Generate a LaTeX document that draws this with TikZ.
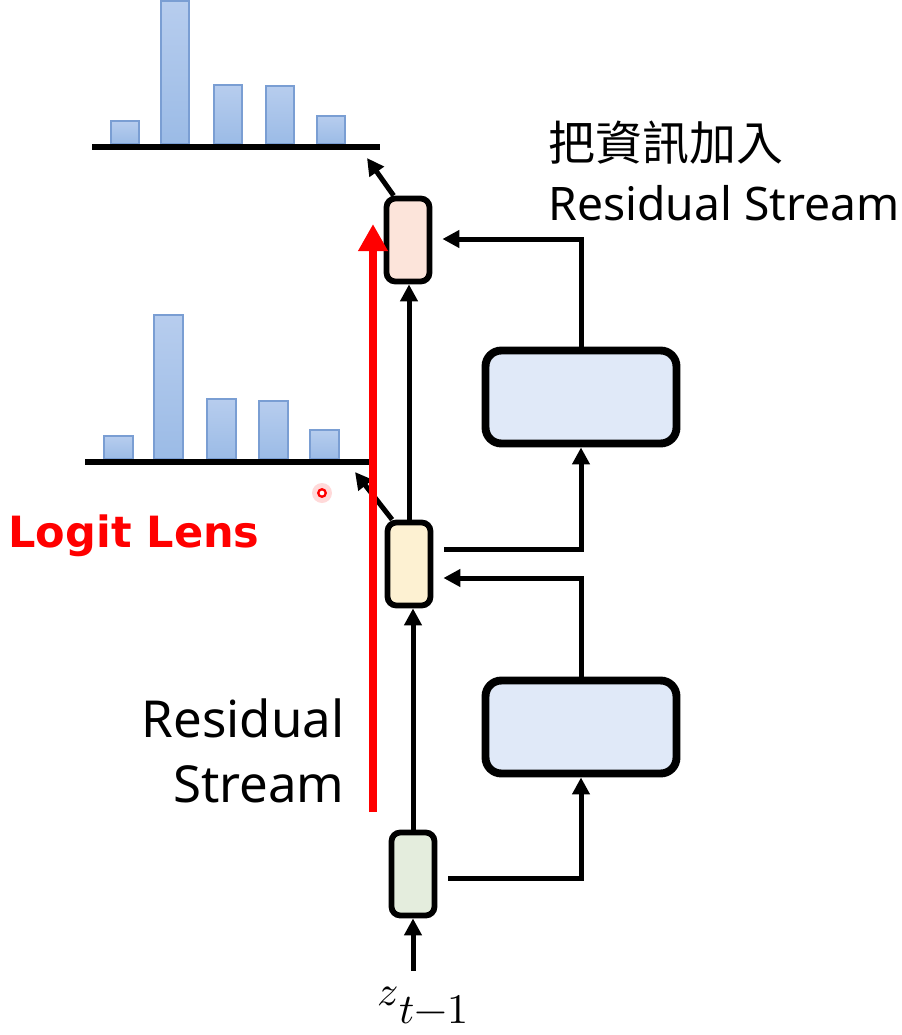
\documentclass[tikz,border=0pt]{standalone}
\usepackage{fontspec}
\usepackage{unicode-math}
\setmainfont{Noto Sans}
\setmathfont{Latin Modern Math}
\newfontfamily\cjkfont{Noto Sans CJK TC}
\newfontfamily\lensfont{DejaVu Sans}
\usetikzlibrary{arrows.meta, positioning}
\definecolor{cbartop}{HTML}{B7CDEE}
\definecolor{cbarbot}{HTML}{9BBBE6}
\definecolor{cbaredge}{HTML}{7A9ED3}
\definecolor{cpink}{HTML}{FCE4DA}
\definecolor{ccream}{HTML}{FDF1D2}
\definecolor{cgreen}{HTML}{E4EDDD}
\definecolor{cblock}{HTML}{E0E9F8}
\definecolor{cred}{HTML}{FF0000}
\tikzset{
  every picture/.style={line width=2.85pt},
  resbox/.style={draw, fill=#1, line width=3.3pt, rounded corners=5pt, inner sep=0pt, minimum width=0.86cm, minimum height=1.66cm},
  block/.style={draw, fill=cblock, line width=4.5pt, rounded corners=9pt, inner sep=0pt, minimum width=3.82cm, minimum height=1.86cm},
  arrow/.style={-{Triangle[length=0.34cm, width=0.34cm]}, line width=2.85pt},
  lens/.style={-{Triangle[length=0.54cm, width=0.56cm]}, draw=cred, line width=5pt},
  bar/.style={top color=cbartop, bottom color=cbarbot, draw=cbaredge, line width=0.8pt},
  axis/.style={line width=3pt},
  label/.style={font=\fontsize{29}{34}\selectfont, inner sep=0pt},
}

\begin{document}
\begin{tikzpicture}[x=0.02cm, y=-0.02cm]
  \useasboundingbox (0,0) rectangle (902,1035);
  % ---------------- histograms
  \foreach \x/\t in {111/121, 161/1, 214/85, 266/86, 317/116}
    \draw[bar] (\x,\t) rectangle (\x+28,144);
  \draw[axis] (92,147) -- (380,147);
  \coordinate (toptip) at (367,158);
  \foreach \x/\t in {104/436, 154/315, 207/399, 259/401, 310/430}
    \draw[bar] (\x,\t) rectangle (\x+29,459);
  \draw[axis] (85,462) -- (369,462);
  \coordinate (midtip) at (355,472);
  % ---------------- residual stream
  \node[resbox=cgreen] (res0) at (413,874) {};
  \node[resbox=ccream] (res1) at (409,564) {};
  \node[resbox=cpink] (res2) at (408,240) {};
  \node[block] (blk2) at (581,727) {};
  \node[block] (blk1) at (581,397) {};
  \node[anchor=base west, inner sep=0pt, font=\fontsize{24}{28}\selectfont] (zin) at (375,1005) {$z$\hspace{0.02cm}\raisebox{-0.36cm}{$t{-}1$}};
  \draw[arrow, shorten <=0.26cm] (zin.north -| res0.south) -- (res0.south);
  \draw[arrow] (res0.north) -- (res0.north |- res1.south);
  \draw[arrow] (res1.north) -- (res1.north |- res2.south);
  \draw[arrow, shorten <=0.22cm] ([yshift=-0.08cm]res0.east) -| (blk2.south);
  \draw[arrow, shorten >=0.2cm] (blk2.north) |- ([yshift=-0.28cm]res1.east);
  \draw[arrow, shorten <=0.22cm] ([yshift=0.3cm]res1.east) -| (blk1.south);
  \draw[arrow, shorten >=0.2cm] (blk1.north) |- ([yshift=0.02cm]res2.east);
  \draw[arrow] ([xshift=0.2cm]res2.north west) -- (toptip);
  \draw[arrow] ([xshift=0.15cm]res1.north west) -- (midtip);
  % ---------------- logit lens
  \coordinate (lensfoot) at (373,812);
  \coordinate (lenstop) at (373,224);
  \draw[lens] (lensfoot) -- (lenstop);
  \fill[cred!15] (322,493) circle (0.2cm);
  \draw[cred, line width=1.3pt, fill=white] (322,493) circle (0.075cm);
  % ---------------- labels
  \node[label, anchor=base west, font=\fontsize{26.7}{30}\selectfont] (addinfo) at (546,160) {\cjkfont 把資訊加入};
  \node[label, anchor=base west, font=\fontsize{26.3}{30}\selectfont] (addres) at (546,220) {Residual Stream};
  \node[label, anchor=base west, text=cred, font=\lensfont\bfseries\fontsize{24.5}{28}\selectfont] (lensname) at (6,547) {Logit Lens};
  \node[label, anchor=base east] (resname) at (347,737) {Residual};
  \node[label, anchor=base east] (streamname) at (347,802) {Stream};
\end{tikzpicture}
\end{document}
